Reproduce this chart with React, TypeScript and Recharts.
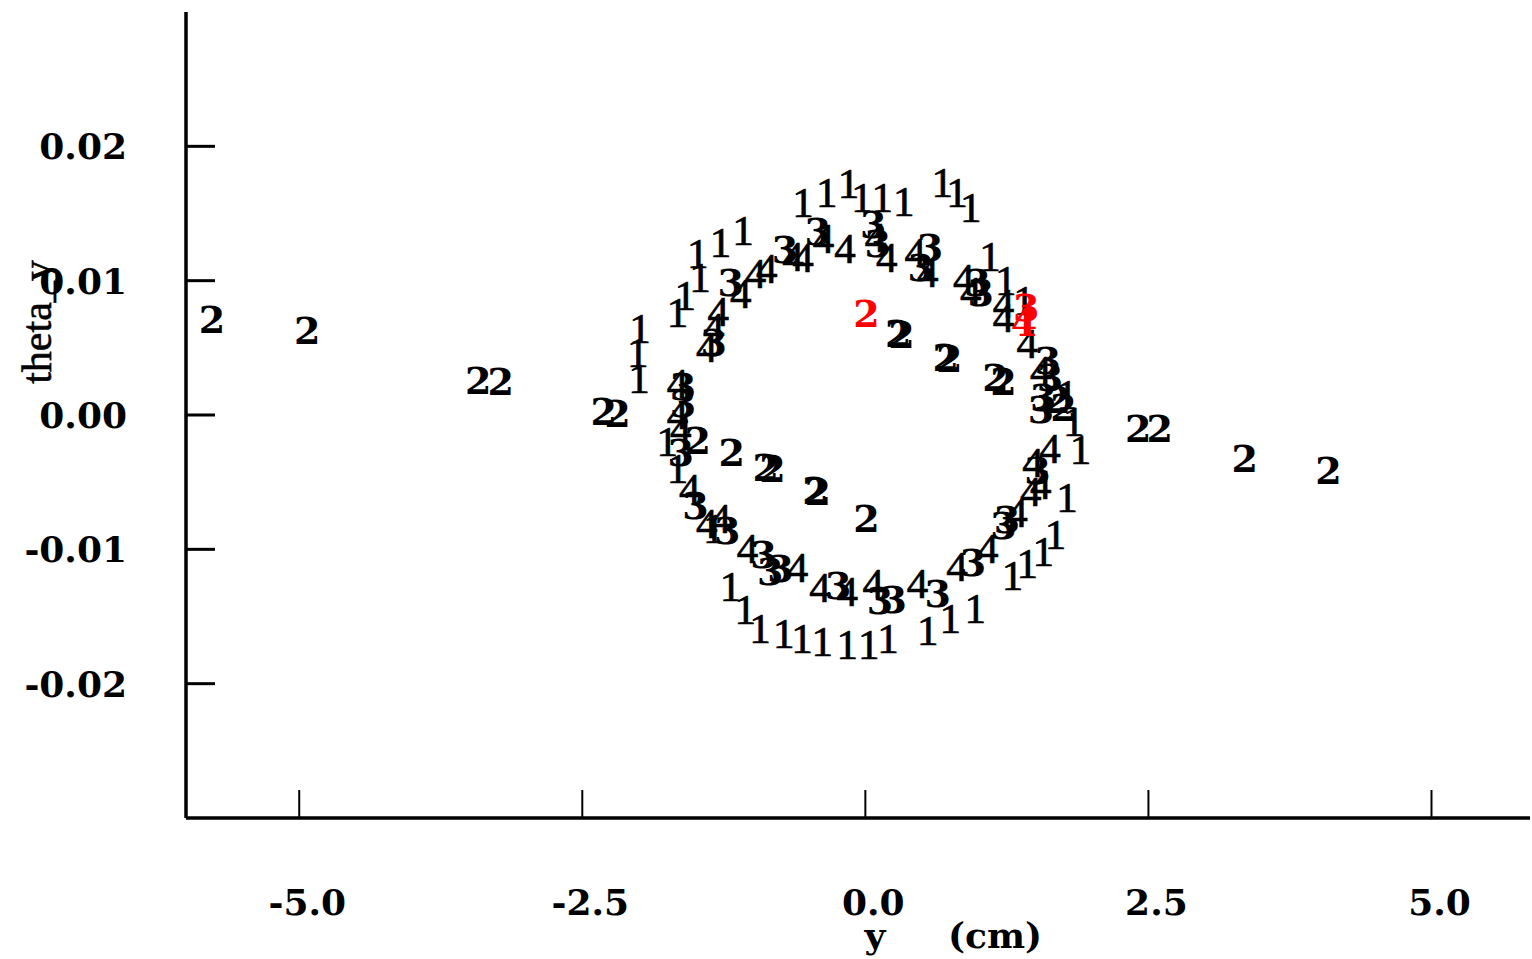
import React from 'react';
import { ScatterChart, Scatter, XAxis, YAxis } from 'recharts';

// ring of particle set 1 (outer)
const ring1: [number, number][] = [
  [-0.55, 0.0159], [-0.34, 0.0166], [-0.15, 0.0173], [-0.03, 0.0163], [0.15, 0.0163],
  [0.34, 0.016], [0.68, 0.0174], [0.81, 0.0166], [0.93, 0.0155], [1.1, 0.0119],
  [1.24, 0.0101], [1.4, 0.0086], [1.78, 0.0016], [1.84, -0.0004], [1.9, -0.0025],
  [1.78, -0.0061], [1.68, -0.0088], [1.57, -0.0101], [1.43, -0.011], [1.3, -0.0119],
  [0.97, -0.0143], [0.75, -0.0151], [0.55, -0.016], [0.2, -0.0166], [0.03, -0.017],
  [-0.16, -0.017], [-0.38, -0.0168], [-0.56, -0.0166], [-0.72, -0.0162], [-0.93, -0.0158],
  [-1.06, -0.0144], [-1.19, -0.0127], [-1.34, -0.0084], [-1.66, -0.0039], [-1.75, -0.0019],
  [-2.0, 0.0028], [-2.01, 0.0047], [-1.99, 0.0065], [-1.66, 0.0077], [-1.59, 0.009],
  [-1.46, 0.0103], [-1.48, 0.0121], [-1.28, 0.0129], [-1.08, 0.0138],
];

// set 2 (drifting line through the centre)
const line2: [number, number][] = [
  [-5.77, 0.0071], [-4.93, 0.0063], [-3.42, 0.0026], [-3.22, 0.0025], [-2.31, 0.0003],
  [-2.19, 0.0001], [-1.48, -0.0019], [-1.18, -0.0028], [-0.88, -0.0039], [-0.82, -0.004],
  [-0.44, -0.0056], [-0.42, -0.0057], [0.01, -0.0077], [0.29, 0.0061], [0.32, 0.006],
  [0.71, 0.0043], [0.74, 0.0042], [1.15, 0.0028], [1.22, 0.0025], [1.7, 0.0012],
  [1.75, 0.0006], [2.41, -0.001], [2.6, -0.001], [3.35, -0.0032], [4.09, -0.0041],
];

// set 3 (inner ring)
const ring3: [number, number][] = [
  [-0.71, 0.0123], [-0.42, 0.0137], [0.07, 0.0142], [0.11, 0.0128], [0.57, 0.0125],
  [0.49, 0.011], [0.99, 0.0099], [1.02, 0.0091], [1.61, 0.0041], [1.63, 0.0028],
  [1.57, 0.0013], [1.55, 0.0004], [1.52, -0.0041], [1.25, -0.0078], [1.22, -0.0082],
  [0.95, -0.011], [0.64, -0.0133], [0.25, -0.0137], [0.13, -0.0138], [-0.24, -0.0127],
  [-0.75, -0.0114], [-0.84, -0.0116], [-0.9, -0.0104], [-1.22, -0.0086], [-1.5, -0.0067],
  [-1.63, -0.0028], [-1.61, 0.0009], [-1.61, 0.0021], [-1.34, 0.0054], [-1.19, 0.0099],
];

// set 4 (inner ring)
const ring4: [number, number][] = [
  [-0.87, 0.011], [-0.97, 0.0106], [-0.64, 0.0119], [-0.55, 0.0118], [-0.37, 0.0132],
  [-0.18, 0.0125], [0.09, 0.0133], [0.19, 0.0118], [0.44, 0.0122], [0.55, 0.0107],
  [0.87, 0.0102], [0.93, 0.0093], [1.22, 0.0084], [1.22, 0.0073], [1.43, 0.0054],
  [1.55, 0.0034], [1.63, -0.0024], [1.55, -0.0051], [1.48, -0.0035], [1.34, -0.0072],
  [1.46, -0.0056], [1.08, -0.0099], [0.81, -0.0112], [0.46, -0.0125], [0.07, -0.0125],
  [-0.16, -0.0131], [-0.4, -0.0128], [-0.6, -0.0113], [-1.04, -0.0099], [-1.28, -0.0076],
  [-1.4, -0.008], [-1.55, -0.0054], [-1.63, -0.0009], [-1.66, 0.0001], [-1.66, 0.0024],
  [-1.4, 0.0051], [-1.34, 0.0066], [-1.3, 0.0078], [-1.1, 0.0091],
];

// first particle of sets 2, 3, 4 (red)
const firstMarks: [number, number, string][] = [
  [0.01, 0.0076, '2'], [1.42, 0.008, '3'], [1.4, 0.0069, '4'],
];

const xTicks = [-5, -2.5, 0, 2.5, 5];
const yTicks = [-0.02, -0.01, 0, 0.01, 0.02];

const toPts = (arr: [number, number][]) => arr.map(([x, y]) => ({ x, y }));

const FONT = '"DejaVu Serif", serif';
const THIN_FONT = '"Liberation Serif", serif';
const PLOT_LEFT = 186;
const PLOT_BOTTOM = 818;

const labelShape = (label: string, bold: boolean, color = '#000') => (props: any) => (
  <text
    x={props.cx}
    y={props.cy}
    dy="0.36em"
    textAnchor="middle"
    fontFamily={bold ? FONT : THIN_FONT}
    fontWeight={bold ? 'bold' : 'normal'}
    fontSize={bold ? 38 : 43}
    fill={color}
    stroke={bold ? 'none' : color}
    strokeWidth={bold ? 0 : 0.7}
  >
    {props.payload && props.payload.label ? props.payload.label : label}
  </text>
);

const YTick = ({ y, payload }: any) => (
  <g>
    <line x1={PLOT_LEFT} x2={PLOT_LEFT + 29} y1={y} y2={y} stroke="#000" strokeWidth={3} />
    <text x={127} y={y} dy="0.36em" textAnchor="end" fontFamily={FONT} fontWeight="bold" fontSize={36} fill="#000">
      {payload.value.toFixed(2)}
    </text>
  </g>
);

const XTick = ({ x, payload }: any) => (
  <g>
    <line x1={x} x2={x} y1={PLOT_BOTTOM} y2={PLOT_BOTTOM - 28} stroke="#000" strokeWidth={2} />
    <text x={x + 8} y={902} dy="0.36em" textAnchor="middle" fontFamily={FONT} fontWeight="bold" fontSize={36} fill="#000">
      {payload.value.toFixed(1)}
    </text>
  </g>
);

export default function App() {
  return (
    <div style={{ position: 'absolute', left: 0, top: 0, background: '#fff' }}>
      <ScatterChart width={1532} height={959} margin={{ top: 12, right: 2, bottom: 111, left: 126 }}>
        <XAxis
          type="number"
          dataKey="x"
          domain={[-6, 5.87]}
          ticks={xTicks}
          allowDataOverflow
          axisLine={{ stroke: '#000', strokeWidth: 3.5 }}
          tickLine={false}
          tick={<XTick />}
          height={30}
        />
        <YAxis
          type="number"
          dataKey="y"
          domain={[-0.03, 0.03]}
          ticks={yTicks}
          allowDataOverflow
          axisLine={{ stroke: '#000', strokeWidth: 3.5 }}
          tickLine={false}
          tick={<YTick />}
          width={60}
        />
        <Scatter data={toPts(ring1)} shape={labelShape('1', false)} isAnimationActive={false} />
        <Scatter data={toPts(ring4)} shape={labelShape('4', false)} isAnimationActive={false} />
        <Scatter data={toPts(ring3)} shape={labelShape('3', true)} isAnimationActive={false} />
        <Scatter data={toPts(line2)} shape={labelShape('2', true)} isAnimationActive={false} />
        <Scatter
          data={firstMarks.map(([x, y, label]) => ({ x, y, label }))}
          shape={labelShape('', true, '#ff0000')}
          isAnimationActive={false}
        />
        <text x={36} y={322} transform="rotate(-90 36 322)" dy="0.36em" textAnchor="middle" fontFamily={THIN_FONT} fontSize={42} fill="#000" stroke="#000" strokeWidth={0.6}>
          theta_y
        </text>
        <text x={875} y={935} dy="0.36em" textAnchor="middle" fontFamily={FONT} fontWeight="bold" fontSize={36} fill="#000">
          y
        </text>
        <text x={995} y={935} dy="0.36em" textAnchor="middle" fontFamily={FONT} fontWeight="bold" fontSize={36} fill="#000">
          (cm)
        </text>
      </ScatterChart>
    </div>
  );
}
